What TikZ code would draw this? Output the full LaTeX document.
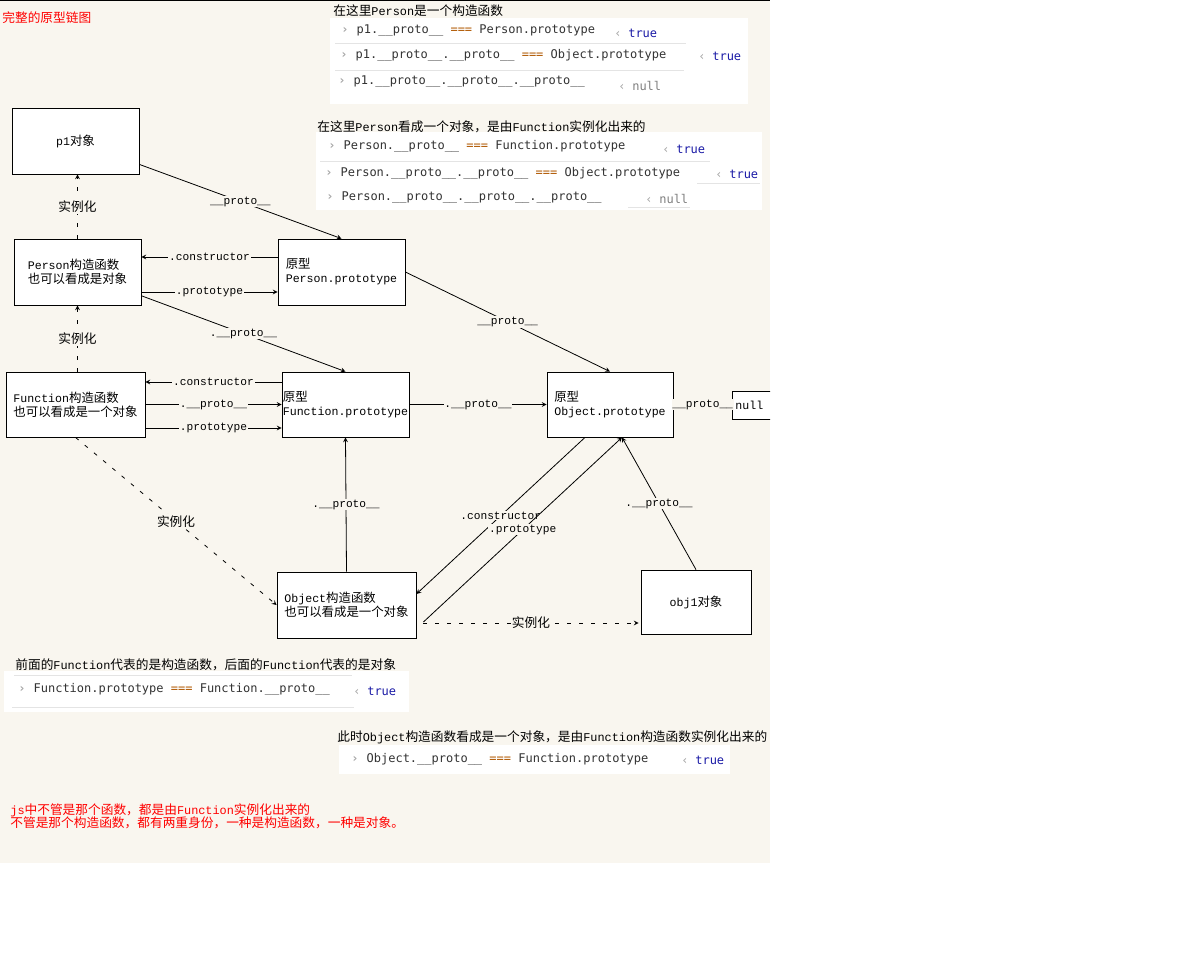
\documentclass[tikz,border=0pt]{standalone}
\usepackage{fontspec}
\setmonofont{Liberation Mono}
\newfontfamily\zhfont{Noto Sans CJK SC}[Scale=1.07]
\newfontfamily\confont{DejaVu Sans Mono}

\definecolor{bg}{RGB}{249,246,239}
\definecolor{gry}{RGB}{165,165,165}
\definecolor{codec}{RGB}{51,51,51}
\definecolor{eqc}{RGB}{176,88,0}
\definecolor{tru}{RGB}{26,26,166}
\definecolor{nul}{RGB}{128,128,128}
\definecolor{sepc}{RGB}{228,228,228}

\newcommand\zh[1]{{\zhfont #1}}
\newcommand\eq{\textcolor{eqc}{===}}
\newcommand\pr{\textcolor{gry}{\textbf{›}}\hspace{6pt}}
\newcommand\res[2]{\textcolor{gry}{‹}\hspace{5pt}\textcolor{#1}{#2}}

\tikzset{
  box/.style={draw, fill=white, line width=0.6pt, inner xsep=0.4pt, inner ysep=1pt, align=left,
    font=\fontsize{8.7}{10.5}\selectfont\ttfamily},
  lbl/.style={fill=bg, inner sep=0.6pt, font=\fontsize{8.4}{10}\selectfont\ttfamily},
  zhlbl/.style={fill=bg, inner sep=1pt, font=\fontsize{8.9}{10}\selectfont\zhfont},
  note/.style={anchor=west, inner sep=0pt, font=\fontsize{8.9}{10}\selectfont\ttfamily},
  code/.style={anchor=west, inner sep=0pt, text=codec, font=\fontsize{9}{10}\selectfont\confont},
  sep/.style={draw=sepc, line width=0.75pt},
  inst/.style={->, dash pattern=on 3pt off 6pt}
}

\begin{document}
\begin{tikzpicture}[x=0.75pt, y=-0.75pt, >=stealth, line width=0.6pt]
	\useasboundingbox (0,0) rectangle (1184,958);
	\fill [bg] (0,0) rectangle (770,863);
	\draw [line width=0.9pt] (0,0.5) -- (770,0.5);

	\node [note, text=red] (TT) at (2,18) {\zh{完整的原型链图}};

	% console, top
	\fill [white] (330,18) rectangle (748,104);
	\node [note] (H1) at (333,11) {\zh{在这里}Person\zh{是一个构造函数}};
	\node [code] (C1A) at (341,31) {\pr p1.\_\_proto\_\_ \eq{} Person.prototype};
	\node [code] (T1A) at (614,33) {\res{tru}{true}};
	\draw [sep] (335,43) -- (686,43);
	\node [code] (C1B) at (340,55) {\pr p1.\_\_proto\_\_.\_\_proto\_\_ \eq{} Object.prototype};
	\node [code] (T1B) at (698,56) {\res{tru}{true}};
	\draw [sep] (335,70) -- (684,70);
	\node [code] (C1C) at (338,82) {\pr p1.\_\_proto\_\_.\_\_proto\_\_.\_\_proto\_\_};
	\node [code] (T1C) at (618,86) {\res{nul}{null}};

	\fill [white] (316,132) rectangle (762,210);
	\node [note] (H2) at (317,127) {\zh{在这里}Person\zh{看成一个对象，是由}Function\zh{实例化出来的}};
	\node [code] (C2A) at (328,146) {\pr Person.\_\_proto\_\_ \eq{} Function.prototype};
	\node [code] (T2A) at (662,149) {\res{tru}{true}};
	\draw [sep] (320,161) -- (710,161);
	\node [code] (C2B) at (325,173) {\pr Person.\_\_proto\_\_.\_\_proto\_\_ \eq{} Object.prototype};
	\node [code] (T2B) at (715,174) {\res{tru}{true}};
	\draw [sep] (697,183) -- (760,183);
	\node [code] (C2C) at (326,198) {\pr Person.\_\_proto\_\_.\_\_proto\_\_.\_\_proto\_\_};
	\node [code] (T2C) at (645,199) {\res{nul}{null}};
	\draw [sep] (628,207) -- (690,207);

	% boxes
	\node [box, minimum width=95.25pt, minimum height=49.5pt] (P1) at (75.5,141) {p1\zh{对象}};
	\node [box, minimum width=95.25pt, minimum height=49.5pt] (PC) at (77.5,272) {Person\zh{构造函数}\\\zh{也可以看成是对象}};
	\node [box, minimum width=95.25pt, minimum height=49.5pt] (PP) at (341.5,272) {\zh{原型}\\Person.prototype};
	\node [box, minimum width=104.25pt, minimum height=48.75pt] (FC) at (75.5,404.5) {Function\zh{构造函数}\\\zh{也可以看成是一个对象}};
	\node [box, minimum width=95.25pt, minimum height=48.75pt] (FP) at (345.5,404.5) {\zh{原型}\\Function.prototype};
	\node [box, minimum width=94.5pt, minimum height=48.75pt] (OP) at (610,404.5) {\zh{原型}\\Object.prototype};
	\node [box, minimum width=104.25pt, minimum height=49.5pt] (OC) at (346.5,605) {Object\zh{构造函数}\\\zh{也可以看成是一个对象}};
	\node [box, minimum width=82.5pt, minimum height=48pt] (O1) at (696,602) {obj1\zh{对象}};
	\begin{scope}
		\clip (0,0) rectangle (770,863);
		\node [box, anchor=west, inner xsep=2.25pt, text width=40pt, minimum height=21pt] (NL) at (732,405) {null};
		\node [note] (H4) at (337,737) {\zh{此时}Object\zh{构造函数看成是一个对象，是由}Function\zh{构造函数实例化出来的}};
	\end{scope}

	\draw [->] (P1) -- node [lbl] {\_\_proto\_\_} (PP.north);
	\draw [inst] (PC.north) -- node [zhlbl] {实例化} (PC.north |- P1.south);
	\draw [->] ([yshift=11.25pt]PP.west) -- node [lbl] {.constructor} ([yshift=11.25pt]PC.east);
	\draw [->] ([yshift=-15pt]PC.east) -- node [lbl] {.prototype} ([yshift=-15pt]PP.west);
	\draw [->] (PC) -- node [lbl] {.\_\_proto\_\_} (FP.north);
	\draw [inst] (PC.south |- FC.north) -- node [zhlbl] {实例化} (PC.south);
	\draw [->] ([yshift=16.9pt]FP.west) -- node [lbl] {.constructor} ([yshift=16.9pt]FC.east);
	\draw [->] (FC.east) -- node [lbl] {.\_\_proto\_\_} (FP.west);
	\draw [->] ([yshift=-17.6pt]FC.east) -- node [lbl] {.prototype} ([yshift=-17.6pt]FP.west);
	\draw [->] (PP.east) -- node [lbl] {\_\_proto\_\_} (OP.north);
	\draw [->] (FP.east) -- node [lbl] {.\_\_proto\_\_} (OP.west);
	\draw (OP.east) -- node [lbl] {\_\_proto\_\_} (NL.west);
	\draw [inst] (FC.south) -- node [zhlbl] {实例化} (OC.west);
	\draw [->] (OC.north) -- node [lbl] {.\_\_proto\_\_} (FP.south);
	\draw [->] ([xshift=-18.75pt]OP.south) -- node [lbl] {.constructor} ([yshift=8.25pt]OC.east);
	\draw [->] ([shift={(5.25pt,-12.75pt)}]OC.east) -- node [lbl] {.prototype} ([xshift=9pt]OP.south);
	\draw [inst] ([shift={(5.25pt,-13.5pt)}]OC.east) -- node [zhlbl] {实例化} ([shift={(-1.5pt,-15.75pt)}]O1.west);
	\draw [->] (O1.north) -- node [lbl] {.\_\_proto\_\_} ([xshift=9pt]OP.south);

	% console, bottom
	\node [note] (H3) at (15,665) {\zh{前面的}Function\zh{代表的是构造函数，后面的}Function\zh{代表的是对象}};
	\fill [white] (4,671) rectangle (409,712);
	\draw [sep] (14,675) -- (352,675);
	\draw [sep] (12,707) -- (354,707);
	\node [code] (C3) at (18,689) {\pr Function.prototype \eq{} Function.\_\_proto\_\_};
	\node [code] (T3) at (353,691) {\res{tru}{true}};

	\fill [white] (339,745) rectangle (730,774);
	\node [code] (C4) at (351,759) {\pr Object.\_\_proto\_\_ \eq{} Function.prototype};
	\node [code] (T4) at (681,760) {\res{tru}{true}};

	\node [note, text=red] (JS1) at (10,810) {js\zh{中不管是那个函数，都是由}Function\zh{实例化出来的}};
	\node [note, text=red] (JS2) at (10,823) {\zh{不管是那个构造函数，都有两重身份，一种是构造函数，一种是对象。}};
\end{tikzpicture}
\end{document}
